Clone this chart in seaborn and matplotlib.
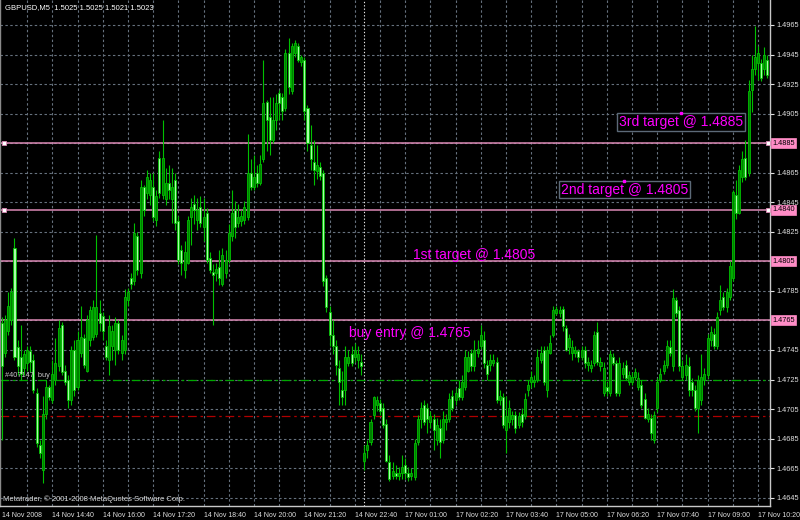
import numpy as np
import pandas as pd
import matplotlib
matplotlib.use("Agg")
import matplotlib.pyplot as plt
import matplotlib.transforms as mtransforms
import seaborn as sns

# GBPUSD M5 candles, 14 Nov 2008 13:20 -> 17 Nov 10:35
opens = [
    1.4763, 1.4743, 1.4758, 1.4765, 1.4814, 1.4747, 1.4740, 1.4733, 1.4736, 1.4744,
    1.4738, 1.4716, 1.4681, 1.4664, 1.4702, 1.4720, 1.4711, 1.4725, 1.4734, 1.4762,
    1.4731, 1.4725, 1.4711, 1.4745, 1.4720, 1.4743, 1.4753, 1.4731, 1.4752, 1.4754,
    1.4756, 1.4770, 1.4768, 1.4748, 1.4738, 1.4748, 1.4745, 1.4763, 1.4743, 1.4745,
    1.4779, 1.4794, 1.4792, 1.4822, 1.4797, 1.4855, 1.4851, 1.4850, 1.4855, 1.4833,
    1.4875, 1.4850, 1.4847, 1.4858, 1.4847, 1.4860, 1.4832, 1.4813, 1.4799, 1.4804,
    1.4835, 1.4844, 1.4833, 1.4842, 1.4828, 1.4838, 1.4807, 1.4798, 1.4797, 1.4801,
    1.4790, 1.4797, 1.4806, 1.4822, 1.4840, 1.4831, 1.4832, 1.4833, 1.4835, 1.4865,
    1.4855, 1.4865, 1.4858, 1.4874, 1.4913, 1.4903, 1.4887, 1.4901, 1.4919, 1.4916,
    1.4909, 1.4946, 1.4920, 1.4946, 1.4951, 1.4940, 1.4941, 1.4909, 1.4884, 1.4872,
    1.4866, 1.4869, 1.4865, 1.4794, 1.4771, 1.4755, 1.4748, 1.4733, 1.4718, 1.4718,
    1.4736, 1.4742, 1.4740, 1.4738, 1.4737, 1.4670, 1.4677, 1.4683, 1.4701, 1.4708,
    1.4709, 1.4706, 1.4695, 1.4669, 1.4660, 1.4662, 1.4660, 1.4662, 1.4667, 1.4662,
    1.4660, 1.4659, 1.4683, 1.4698, 1.4708, 1.4706, 1.4696, 1.4698, 1.4684, 1.4692,
    1.4684, 1.4696, 1.4698, 1.4714, 1.4711, 1.4719, 1.4713, 1.4720, 1.4731, 1.4743,
    1.4734, 1.4743, 1.4748, 1.4752, 1.4735, 1.4735, 1.4736, 1.4737, 1.4711, 1.4713,
    1.4691, 1.4696, 1.4698, 1.4701, 1.4694, 1.4702, 1.4700, 1.4718, 1.4723, 1.4723,
    1.4725, 1.4738, 1.4745, 1.4718, 1.4743, 1.4755, 1.4770, 1.4770, 1.4773, 1.4760,
    1.4747, 1.4743, 1.4743, 1.4744, 1.4740, 1.4745, 1.4735, 1.4733, 1.4736, 1.4757,
    1.4734, 1.4716, 1.4720, 1.4716, 1.4740, 1.4736, 1.4716, 1.4729, 1.4735, 1.4723,
    1.4723, 1.4727, 1.4720, 1.4721, 1.4712, 1.4698, 1.4699, 1.4684, 1.4706, 1.4725,
    1.4731, 1.4735, 1.4747, 1.4734, 1.4779, 1.4772, 1.4727, 1.4728, 1.4734, 1.4723,
    1.4718, 1.4706, 1.4711, 1.4725, 1.4728, 1.4752, 1.4756, 1.4748, 1.4772, 1.4781,
    1.4774, 1.4781, 1.4794, 1.4850, 1.4838, 1.4862, 1.4875, 1.4865, 1.4921, 1.4935,
    1.4939, 1.4939, 1.4935, 1.4941,
]
highs = [
    1.4767, 1.4769, 1.4784, 1.4787, 1.4821, 1.4752, 1.4762, 1.4745, 1.4748, 1.4748,
    1.4742, 1.4719, 1.4684, 1.4714, 1.4725, 1.4721, 1.4738, 1.4753, 1.4765, 1.4764,
    1.4735, 1.4728, 1.4748, 1.4752, 1.4758, 1.4775, 1.4756, 1.4769, 1.4775, 1.4779,
    1.4823, 1.4779, 1.4771, 1.4752, 1.4769, 1.4762, 1.4767, 1.4765, 1.4755, 1.4786,
    1.4787, 1.4797, 1.4831, 1.4825, 1.4860, 1.4857, 1.4867, 1.4865, 1.4865, 1.4853,
    1.4880, 1.4901, 1.4868, 1.4870, 1.4868, 1.4865, 1.4836, 1.4816, 1.4819, 1.4836,
    1.4848, 1.4850, 1.4848, 1.4849, 1.4848, 1.4841, 1.4811, 1.4803, 1.4804, 1.4813,
    1.4814, 1.4813, 1.4830, 1.4853, 1.4846, 1.4844, 1.4840, 1.4846, 1.4891, 1.4874,
    1.4877, 1.4870, 1.4877, 1.4941, 1.4914, 1.4916, 1.4916, 1.4918, 1.4921, 1.4919,
    1.4949, 1.4956, 1.4953, 1.4955, 1.4953, 1.4945, 1.4943, 1.4911, 1.4897, 1.4887,
    1.4884, 1.4872, 1.4867, 1.4796, 1.4775, 1.4765, 1.4752, 1.4738, 1.4731, 1.4748,
    1.4745, 1.4748, 1.4750, 1.4748, 1.4742, 1.4681, 1.4684, 1.4698, 1.4714, 1.4714,
    1.4712, 1.4709, 1.4698, 1.4674, 1.4669, 1.4667, 1.4666, 1.4674, 1.4672, 1.4666,
    1.4665, 1.4685, 1.4701, 1.4710, 1.4711, 1.4709, 1.4704, 1.4702, 1.4699, 1.4698,
    1.4704, 1.4702, 1.4716, 1.4718, 1.4719, 1.4725, 1.4728, 1.4745, 1.4744, 1.4746,
    1.4752, 1.4752, 1.4762, 1.4758, 1.4738, 1.4742, 1.4742, 1.4740, 1.4718, 1.4716,
    1.4714, 1.4711, 1.4704, 1.4704, 1.4703, 1.4706, 1.4716, 1.4725, 1.4731, 1.4728,
    1.4746, 1.4748, 1.4748, 1.4748, 1.4755, 1.4775, 1.4775, 1.4775, 1.4775, 1.4762,
    1.4756, 1.4752, 1.4748, 1.4746, 1.4748, 1.4748, 1.4740, 1.4738, 1.4758, 1.4764,
    1.4740, 1.4737, 1.4723, 1.4745, 1.4743, 1.4738, 1.4740, 1.4737, 1.4738, 1.4731,
    1.4730, 1.4733, 1.4730, 1.4725, 1.4716, 1.4706, 1.4702, 1.4704, 1.4726, 1.4733,
    1.4738, 1.4752, 1.4752, 1.4786, 1.4781, 1.4775, 1.4738, 1.4742, 1.4740, 1.4726,
    1.4721, 1.4728, 1.4742, 1.4733, 1.4756, 1.4761, 1.4760, 1.4771, 1.4789, 1.4784,
    1.4787, 1.4805, 1.4853, 1.4860, 1.4870, 1.4880, 1.4887, 1.4928, 1.4945, 1.4964,
    1.4951, 1.4942, 1.4950, 1.4945,
]
lows = [
    1.4684, 1.4740, 1.4755, 1.4762, 1.4738, 1.4728, 1.4725, 1.4728, 1.4731, 1.4730,
    1.4716, 1.4679, 1.4672, 1.4655, 1.4698, 1.4711, 1.4709, 1.4721, 1.4731, 1.4728,
    1.4721, 1.4706, 1.4708, 1.4714, 1.4718, 1.4740, 1.4733, 1.4730, 1.4748, 1.4752,
    1.4754, 1.4758, 1.4752, 1.4738, 1.4728, 1.4738, 1.4735, 1.4742, 1.4738, 1.4742,
    1.4775, 1.4786, 1.4789, 1.4796, 1.4794, 1.4836, 1.4847, 1.4843, 1.4832, 1.4829,
    1.4848, 1.4847, 1.4843, 1.4847, 1.4831, 1.4826, 1.4803, 1.4796, 1.4794, 1.4803,
    1.4816, 1.4830, 1.4826, 1.4828, 1.4819, 1.4804, 1.4797, 1.4762, 1.4792, 1.4789,
    1.4788, 1.4794, 1.4804, 1.4819, 1.4821, 1.4828, 1.4829, 1.4830, 1.4833, 1.4853,
    1.4853, 1.4855, 1.4857, 1.4872, 1.4880, 1.4877, 1.4885, 1.4894, 1.4901, 1.4901,
    1.4907, 1.4918, 1.4918, 1.4943, 1.4940, 1.4937, 1.4901, 1.4880, 1.4867, 1.4857,
    1.4861, 1.4860, 1.4788, 1.4771, 1.4748, 1.4742, 1.4728, 1.4708, 1.4708, 1.4708,
    1.4734, 1.4734, 1.4737, 1.4733, 1.4728, 1.4664, 1.4672, 1.4681, 1.4698, 1.4704,
    1.4701, 1.4692, 1.4669, 1.4656, 1.4658, 1.4658, 1.4657, 1.4658, 1.4658, 1.4656,
    1.4657, 1.4657, 1.4681, 1.4692, 1.4694, 1.4689, 1.4692, 1.4677, 1.4681, 1.4672,
    1.4682, 1.4691, 1.4696, 1.4704, 1.4708, 1.4711, 1.4711, 1.4718, 1.4730, 1.4731,
    1.4731, 1.4740, 1.4746, 1.4733, 1.4725, 1.4731, 1.4734, 1.4709, 1.4708, 1.4692,
    1.4675, 1.4692, 1.4694, 1.4689, 1.4692, 1.4693, 1.4698, 1.4714, 1.4719, 1.4720,
    1.4723, 1.4736, 1.4721, 1.4713, 1.4742, 1.4754, 1.4769, 1.4767, 1.4758, 1.4744,
    1.4742, 1.4738, 1.4740, 1.4737, 1.4738, 1.4733, 1.4731, 1.4730, 1.4734, 1.4735,
    1.4731, 1.4714, 1.4714, 1.4714, 1.4735, 1.4714, 1.4714, 1.4726, 1.4725, 1.4721,
    1.4721, 1.4725, 1.4718, 1.4706, 1.4698, 1.4696, 1.4684, 1.4682, 1.4703, 1.4723,
    1.4729, 1.4733, 1.4741, 1.4731, 1.4767, 1.4731, 1.4725, 1.4725, 1.4714, 1.4714,
    1.4704, 1.4689, 1.4708, 1.4721, 1.4726, 1.4748, 1.4746, 1.4746, 1.4769, 1.4772,
    1.4771, 1.4779, 1.4792, 1.4834, 1.4837, 1.4859, 1.4860, 1.4863, 1.4906, 1.4931,
    1.4928, 1.4927, 1.4931, 1.4929,
]
closes = [
    1.4734, 1.4765, 1.4775, 1.4784, 1.4740, 1.4734, 1.4729, 1.4742, 1.4745, 1.4737,
    1.4718, 1.4682, 1.4675, 1.4702, 1.4720, 1.4713, 1.4729, 1.4736, 1.4760, 1.4730,
    1.4723, 1.4711, 1.4745, 1.4718, 1.4752, 1.4754, 1.4735, 1.4765, 1.4772, 1.4774,
    1.4774, 1.4763, 1.4758, 1.4740, 1.4761, 1.4758, 1.4763, 1.4745, 1.4752, 1.4781,
    1.4784, 1.4790, 1.4824, 1.4799, 1.4855, 1.4840, 1.4862, 1.4860, 1.4835, 1.4849,
    1.4851, 1.4875, 1.4858, 1.4853, 1.4855, 1.4831, 1.4806, 1.4804, 1.4811, 1.4833,
    1.4842, 1.4840, 1.4840, 1.4831, 1.4835, 1.4806, 1.4799, 1.4796, 1.4800, 1.4794,
    1.4809, 1.4806, 1.4824, 1.4838, 1.4828, 1.4835, 1.4836, 1.4842, 1.4865, 1.4855,
    1.4862, 1.4858, 1.4871, 1.4912, 1.4901, 1.4887, 1.4901, 1.4912, 1.4912, 1.4907,
    1.4946, 1.4923, 1.4951, 1.4953, 1.4941, 1.4943, 1.4907, 1.4885, 1.4874, 1.4867,
    1.4870, 1.4863, 1.4792, 1.4774, 1.4755, 1.4748, 1.4735, 1.4723, 1.4713, 1.4740,
    1.4740, 1.4736, 1.4745, 1.4742, 1.4734, 1.4675, 1.4681, 1.4696, 1.4713, 1.4711,
    1.4704, 1.4694, 1.4670, 1.4658, 1.4663, 1.4660, 1.4662, 1.4666, 1.4662, 1.4659,
    1.4662, 1.4682, 1.4698, 1.4706, 1.4696, 1.4698, 1.4700, 1.4691, 1.4694, 1.4683,
    1.4698, 1.4698, 1.4712, 1.4706, 1.4716, 1.4713, 1.4723, 1.4740, 1.4740, 1.4734,
    1.4745, 1.4746, 1.4755, 1.4736, 1.4729, 1.4738, 1.4738, 1.4711, 1.4714, 1.4694,
    1.4700, 1.4706, 1.4701, 1.4692, 1.4700, 1.4696, 1.4712, 1.4721, 1.4727, 1.4725,
    1.4740, 1.4743, 1.4723, 1.4745, 1.4750, 1.4772, 1.4773, 1.4772, 1.4761, 1.4745,
    1.4753, 1.4747, 1.4745, 1.4740, 1.4745, 1.4736, 1.4737, 1.4735, 1.4755, 1.4737,
    1.4737, 1.4733, 1.4717, 1.4742, 1.4736, 1.4716, 1.4736, 1.4733, 1.4726, 1.4728,
    1.4727, 1.4730, 1.4726, 1.4708, 1.4699, 1.4702, 1.4689, 1.4701, 1.4723, 1.4729,
    1.4735, 1.4748, 1.4743, 1.4780, 1.4770, 1.4734, 1.4734, 1.4735, 1.4718, 1.4718,
    1.4706, 1.4725, 1.4727, 1.4729, 1.4753, 1.4757, 1.4748, 1.4767, 1.4779, 1.4774,
    1.4784, 1.4802, 1.4852, 1.4838, 1.4867, 1.4874, 1.4862, 1.4920, 1.4935, 1.4943,
    1.4946, 1.4929, 1.4945, 1.4931,
]

time_labels = ["14 Nov 2008", "14 Nov 14:40", "14 Nov 16:00", "14 Nov 17:20",
               "14 Nov 18:40", "14 Nov 20:00", "14 Nov 21:20", "14 Nov 22:40",
               "17 Nov 01:00", "17 Nov 02:20", "17 Nov 03:40", "17 Nov 05:00",
               "17 Nov 06:20", "17 Nov 07:40", "17 Nov 09:00", "17 Nov 10:20"]
monday_bar = 115

price_levels = [1.4645, 1.4665, 1.4685, 1.4705, 1.4725, 1.4745, 1.4765, 1.4785, 1.4805,
                1.4825, 1.4845, 1.4865, 1.4885, 1.4905, 1.4925, 1.4945, 1.4965]
target_levels = [1.4885, 1.4840, 1.4805, 1.4765]
selected_levels = [1.4885, 1.4840]
order_price = 1.4725
stop_price = 1.4700

notes = ["3rd target @ 1.4885", "2nd target @ 1.4805", "1st target @ 1.4805", "buy entry @ 1.4765"]
note_bars = [195.9, 177.5, 130.5, 110.2]
note_prices = [1.48993, 1.48536, 1.48096, 1.47565]
note_boxed = [True, True, False, False]

# colours
BG = "black"
GRID = "#66717e"
WICK = "#00c000"
BULL = "#007f00"
BEAR = "#a8ffa8"
LINE_PINK = "#dc8ab6"
BOX_PINK = "#ff8cc6"
MAGENTA = "#ff00ff"

sns.set_theme(style="dark", rc={
    "figure.facecolor": BG, "axes.facecolor": BG, "savefig.facecolor": BG,
    "axes.edgecolor": "#c8c8c8", "text.color": "white",
    "xtick.color": "#e0e0e0", "ytick.color": "#e0e0e0",
    "axes.grid": False,
})
plt.rcParams["font.family"] = ["Liberation Sans", "DejaVu Sans"]

df = pd.DataFrame({"open": opens, "high": highs, "low": lows, "close": closes})
df["bar"] = np.arange(len(df))
df["up"] = df["close"] > df["open"]
df["body_lo"] = df[["open", "close"]].min(axis=1)
df["body_h"] = (df["close"] - df["open"]).abs().clip(lower=0.00002)

fig = plt.figure(figsize=(8, 5.2), dpi=100)
ax = fig.add_axes([0.0, 14 / 520, 770 / 800, 506 / 520])

# dashed grid
for lv in price_levels:
    ax.axhline(lv, color=GRID, lw=0.8, ls=(0, (2.2, 2.2)), zorder=1)
for b in range(8, len(df), 8):
    ax.axvline(b, color=GRID, lw=0.8, ls=(0, (2.2, 2.2)), zorder=1)
ax.axvline(monday_bar, color="#e6e6e6", lw=0.8, ls=(0, (1.2, 1.8)), zorder=1)

# level lines
for lv in target_levels:
    ax.axhline(lv, color=LINE_PINK, lw=1.1, zorder=2)
ax.axhline(order_price, color="#00a800", lw=0.9, ls=(0, (7, 3, 2, 3)), zorder=2)
ax.axhline(stop_price, color="#b00000", lw=0.9, ls=(0, (7, 3, 2, 3)), zorder=2)

# candles
ax.vlines(df["bar"], df["low"], df["high"], color=WICK, lw=0.8, zorder=3)
up = df[df["up"]]
dn = df[~df["up"]]
ax.bar(up["bar"], up["body_h"], bottom=up["body_lo"], width=0.64,
       color=BULL, edgecolor=WICK, linewidth=0.6, zorder=4)
ax.bar(dn["bar"], dn["body_h"], bottom=dn["body_lo"], width=0.64,
       color=BEAR, edgecolor=WICK, linewidth=0.6, zorder=4)

# selected-object handles
trans = mtransforms.blended_transform_factory(ax.transAxes, ax.transData)
handles = pd.DataFrame({"x": [0.005, 0.997] * len(selected_levels),
                        "y": np.repeat(selected_levels, 2)})
sns.scatterplot(data=handles, x="x", y="y", ax=ax, transform=trans, marker="s", s=9,
                color="white", edgecolor=LINE_PINK, linewidth=0.6, zorder=6, legend=False)
ax.set_xlim(-0.6, 243.8)
ax.set_ylim(1.46394, 1.49819)

# text notes
for txt, xb, yp, boxed in zip(notes, note_bars, note_prices, note_boxed):
    bbox = dict(boxstyle="square,pad=0.12", fc=BG, ec="#5c6a78", lw=1) if boxed else None
    ax.text(xb, yp, txt, color=MAGENTA, fontsize=10, ha="left", va="center", bbox=bbox, zorder=7)
ax.plot([215.6, 197.5], [1.49054, 1.48594], ls="none", marker="s", ms=1.5, color=MAGENTA, zorder=7)
ax.text(1, 1.47274, "#407147  buy", color="#c8c8c8", fontsize=5.3, ha="left", va="center", zorder=7)

# axes / ticks
ax.set_xlabel("")
ax.set_ylabel("")
ax.spines["top"].set_visible(False)
ax.spines["left"].set_color("#8a8a8a")
ax.spines["right"].set_color("#c8c8c8")
ax.spines["bottom"].set_color("#c8c8c8")
for s in ["left", "right", "bottom"]:
    ax.spines[s].set_linewidth(1.0)

ax.set_xticks(range(0, 16 * len(time_labels), 16))
ax.set_xticklabels(time_labels, ha="left")
ax.yaxis.tick_right()
shown = [lv for lv in price_levels if lv not in target_levels]
ax.set_yticks(shown)
ax.set_yticklabels([f"{lv:.4f}" for lv in shown])
ax.tick_params(axis="x", length=3, width=0.8, pad=1, labelsize=5.0, colors="#e0e0e0")
ax.tick_params(axis="y", length=3, width=0.8, pad=1.5, labelsize=5.3, colors="#e0e0e0")

for lv in target_levels:
    ax.text(1.0028, lv, f"{lv:.4f}", transform=trans, fontsize=5.3, color="black",
            ha="left", va="center", clip_on=False, zorder=8,
            bbox=dict(boxstyle="square,pad=0.2", fc=BOX_PINK, ec=BOX_PINK, lw=0.5))

fig.text(5 / 800, 1 - 8 / 520, "GBPUSD,M5  1.5025 1.5025 1.5021 1.5023",
         color="white", fontsize=5.5, ha="left", va="center")
fig.text(3 / 800, 1 - 499 / 520, "Metatrader, \u00a9 2001-2008 MetaQuotes Software Corp.",
         color="#d8d8d8", fontsize=5.5, ha="left", va="center")

fig.savefig("out.png", dpi=100, facecolor=BG)
